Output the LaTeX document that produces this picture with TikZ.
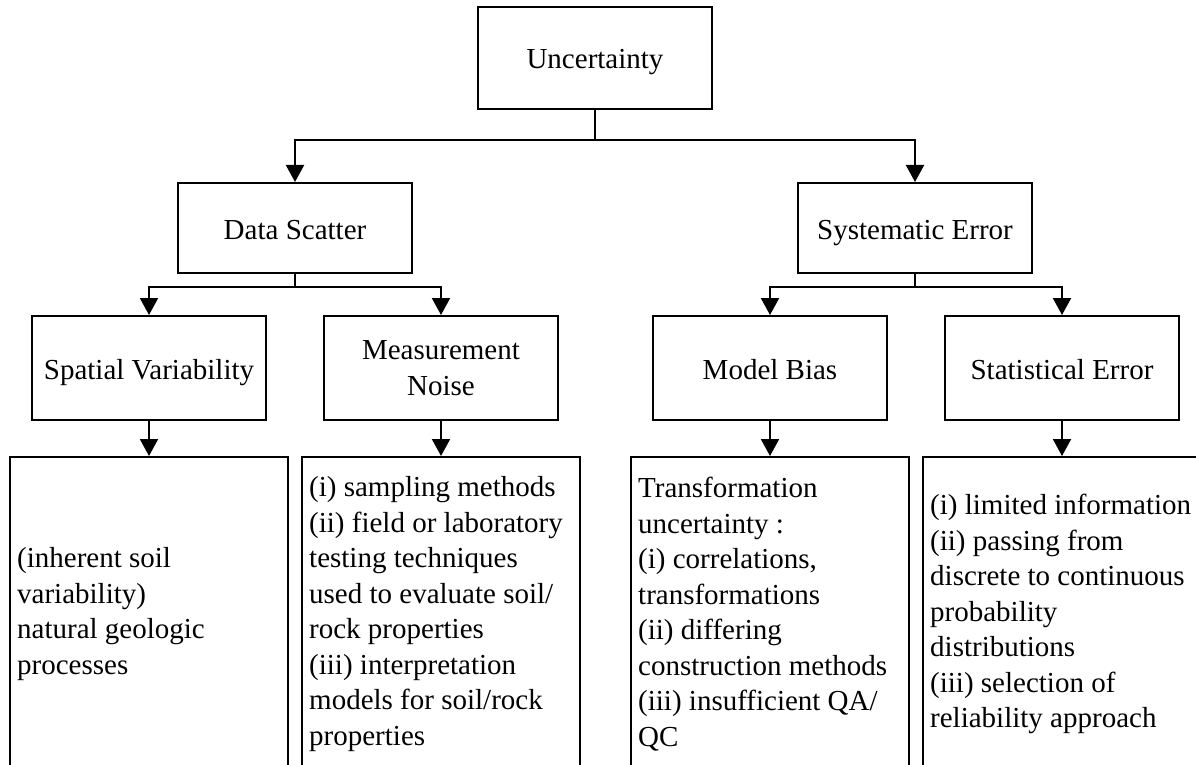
\documentclass[tikz,border=0pt]{standalone}
\usepackage{fontspec}
\setmainfont{Liberation Serif}
\usetikzlibrary{arrows.meta}
\begin{document}
\begin{tikzpicture}[x=1bp,y=-1bp,
  txt/.style={font=\fontsize{29bp}{35.5bp}\selectfont},
  box/.style={txt,draw,line width=2bp,minimum width=234bp,inner sep=0pt,align=center},
  one/.style={text height=22bp,text depth=0bp},
  detail/.style={draw,line width=2bp,minimum width=278bp,minimum height=314bp,inner sep=0pt},
  dtext/.style={txt,anchor=west,inner sep=0pt,align=left},
  conn/.style={line width=2bp},
  arr/.style={conn,-{Triangle[length=17bp,width=18bp]}}]
\useasboundingbox[fill=white] (0,0) rectangle (1196,765);
\begin{scope}
\clip (0,0) rectangle (1196,765);
% top levels
\node[box,one,minimum height=102bp] (unc) at (595,58) {Uncertainty};
\node[box,one,minimum height=90bp] (ds) at (295,228) {Data Scatter};
\node[box,one,minimum height=90bp] (se) at (915,228) {Systematic Error};
\node[box,one,minimum height=104bp] (sv) at (149,368) {Spatial Variability};
\node[box,minimum height=104bp] (mn) at (441,368) {Measurement\\Noise};
\node[box,one,minimum height=104bp] (mb) at (770,368) {Model Bias};
\node[box,one,minimum height=104bp] (st) at (1062,368) {Statistical Error};
% detail boxes
\node[detail] (svd) at (149,614) {};
\node[detail] (mnd) at (441,614) {};
\node[detail] (mbd) at (770,614) {};
\node[detail] (std) at (1062,614) {};
\node[dtext] (svt) at ([xshift=8bp]svd.west) {(inherent soil\\variability)\\natural geologic\\processes};
\node[dtext] (mnt) at ([xshift=8bp]mnd.west) {(i) sampling methods\\(ii) field or laboratory\\testing techniques\\used to evaluate soil/\\rock properties\\(iii) interpretation\\models for soil/rock\\properties};
\node[dtext] (mbt) at ([xshift=8bp]mbd.west) {Transformation\\uncertainty :\\(i) correlations,\\transformations\\(ii) differing\\construction methods\\(iii) insufficient QA/\\QC};
\node[dtext] (stt) at ([xshift=8bp]std.west) {(i) limited information\\(ii) passing from\\discrete to continuous\\probability\\distributions\\(iii) selection of\\reliability approach};
% connectors
\coordinate (j0) at (595,140);
\coordinate (j1) at (295,287);
\coordinate (j2) at (915,287);
\draw[conn] (unc.south) -- (j0);
\draw[arr] (j0) -| (ds.north);
\draw[arr] (j0) -| (se.north);
\draw[conn] (ds.south) -- (j1);
\draw[arr] (j1) -| (sv.north);
\draw[arr] (j1) -| (mn.north);
\draw[conn] (se.south) -- (j2);
\draw[arr] (j2) -| (mb.north);
\draw[arr] (j2) -| (st.north);
\draw[arr] (sv.south) -- (svd.north);
\draw[arr] (mn.south) -- (mnd.north);
\draw[arr] (mb.south) -- (mbd.north);
\draw[arr] (st.south) -- (std.north);
\end{scope}
\end{tikzpicture}
\end{document}
